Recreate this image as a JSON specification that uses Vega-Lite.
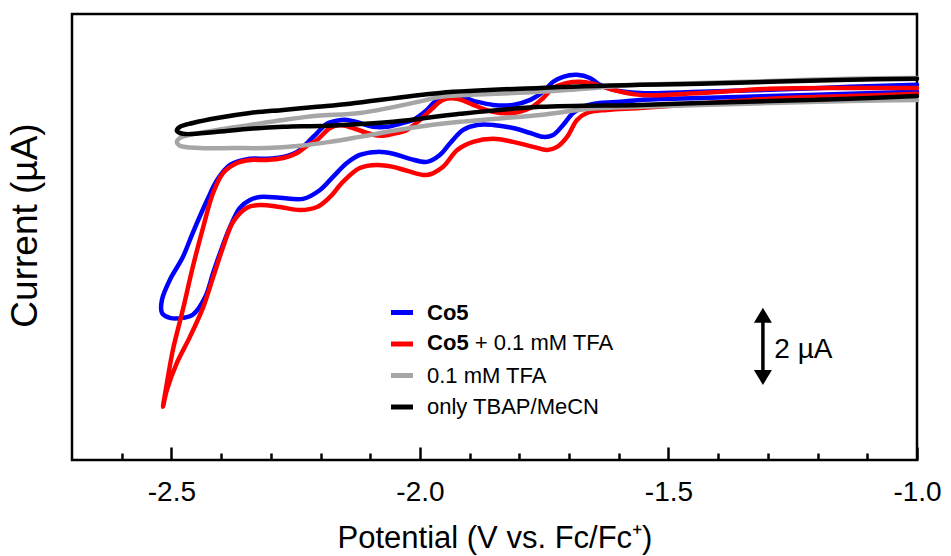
{
  "$schema": "https://vega.github.io/schema/vega-lite/v6.json",
  "width": 845,
  "height": 446,
  "autosize": {"type": "none"},
  "padding": {"left": 72, "top": 14, "right": 34, "bottom": 96},
  "background": "white",
  "config": {
    "view": {"stroke": "black", "strokeWidth": 2.5},
    "font": "Liberation Sans"
  },
  "datasets": {
    "cv": [
      {"s":"Co5","i":0,"E":-1.000,"I":9.56},{"s":"Co5","i":1,"E":-1.135,"I":9.51},{"s":"Co5","i":2,"E":-1.296,"I":9.45},{"s":"Co5","i":3,"E":-1.436,"I":9.40},{"s":"Co5","i":4,"E":-1.557,"I":9.35},{"s":"Co5","i":5,"E":-1.597,"I":9.30},{"s":"Co5","i":6,"E":-1.638,"I":9.27},{"s":"Co5","i":7,"E":-1.672,"I":9.17},{"s":"Co5","i":8,"E":-1.692,"I":9.01},{"s":"Co5","i":9,"E":-1.712,"I":8.70},{"s":"Co5","i":10,"E":-1.732,"I":8.44},{"s":"Co5","i":11,"E":-1.752,"I":8.39},{"s":"Co5","i":12,"E":-1.778,"I":8.49},{"s":"Co5","i":13,"E":-1.813,"I":8.62},{"s":"Co5","i":14,"E":-1.853,"I":8.70},{"s":"Co5","i":15,"E":-1.885,"I":8.70},{"s":"Co5","i":16,"E":-1.913,"I":8.57},{"s":"Co5","i":17,"E":-1.939,"I":8.23},{"s":"Co5","i":18,"E":-1.960,"I":7.92},{"s":"Co5","i":19,"E":-1.986,"I":7.74},{"s":"Co5","i":20,"E":-2.020,"I":7.82},{"s":"Co5","i":21,"E":-2.054,"I":7.95},{"s":"Co5","i":22,"E":-2.086,"I":8.00},{"s":"Co5","i":23,"E":-2.121,"I":7.92},{"s":"Co5","i":24,"E":-2.147,"I":7.71},{"s":"Co5","i":25,"E":-2.175,"I":7.35},{"s":"Co5","i":26,"E":-2.201,"I":7.01},{"s":"Co5","i":27,"E":-2.235,"I":6.78},{"s":"Co5","i":28,"E":-2.282,"I":6.81},{"s":"Co5","i":29,"E":-2.322,"I":6.83},{"s":"Co5","i":30,"E":-2.342,"I":6.75},{"s":"Co5","i":31,"E":-2.362,"I":6.55},{"s":"Co5","i":32,"E":-2.382,"I":6.05},{"s":"Co5","i":33,"E":-2.402,"I":5.38},{"s":"Co5","i":34,"E":-2.416,"I":4.86},{"s":"Co5","i":35,"E":-2.432,"I":4.23},{"s":"Co5","i":36,"E":-2.457,"I":3.77},{"s":"Co5","i":37,"E":-2.477,"I":3.69},{"s":"Co5","i":38,"E":-2.503,"I":3.69},{"s":"Co5","i":39,"E":-2.519,"I":3.82},{"s":"Co5","i":40,"E":-2.519,"I":4.16},{"s":"Co5","i":41,"E":-2.503,"I":4.68},{"s":"Co5","i":42,"E":-2.477,"I":5.27},{"s":"Co5","i":43,"E":-2.457,"I":5.90},{"s":"Co5","i":44,"E":-2.428,"I":6.75},{"s":"Co5","i":45,"E":-2.408,"I":7.27},{"s":"Co5","i":46,"E":-2.382,"I":7.66},{"s":"Co5","i":47,"E":-2.342,"I":7.82},{"s":"Co5","i":48,"E":-2.308,"I":7.82},{"s":"Co5","i":49,"E":-2.275,"I":7.87},{"s":"Co5","i":50,"E":-2.247,"I":8.00},{"s":"Co5","i":51,"E":-2.227,"I":8.23},{"s":"Co5","i":52,"E":-2.207,"I":8.49},{"s":"Co5","i":53,"E":-2.187,"I":8.73},{"s":"Co5","i":54,"E":-2.167,"I":8.81},{"s":"Co5","i":55,"E":-2.147,"I":8.83},{"s":"Co5","i":56,"E":-2.121,"I":8.75},{"s":"Co5","i":57,"E":-2.094,"I":8.65},{"s":"Co5","i":58,"E":-2.066,"I":8.65},{"s":"Co5","i":59,"E":-2.040,"I":8.73},{"s":"Co5","i":60,"E":-2.014,"I":8.83},{"s":"Co5","i":61,"E":-1.986,"I":9.09},{"s":"Co5","i":62,"E":-1.966,"I":9.35},{"s":"Co5","i":63,"E":-1.945,"I":9.43},{"s":"Co5","i":64,"E":-1.919,"I":9.43},{"s":"Co5","i":65,"E":-1.885,"I":9.30},{"s":"Co5","i":66,"E":-1.853,"I":9.22},{"s":"Co5","i":67,"E":-1.813,"I":9.22},{"s":"Co5","i":68,"E":-1.778,"I":9.35},{"s":"Co5","i":69,"E":-1.752,"I":9.56},{"s":"Co5","i":70,"E":-1.732,"I":9.82},{"s":"Co5","i":71,"E":-1.712,"I":9.95},{"s":"Co5","i":72,"E":-1.684,"I":10.00},{"s":"Co5","i":73,"E":-1.658,"I":9.92},{"s":"Co5","i":74,"E":-1.638,"I":9.74},{"s":"Co5","i":75,"E":-1.611,"I":9.61},{"s":"Co5","i":76,"E":-1.557,"I":9.53},{"s":"Co5","i":77,"E":-1.436,"I":9.56},{"s":"Co5","i":78,"E":-1.296,"I":9.61},{"s":"Co5","i":79,"E":-1.135,"I":9.69},{"s":"Co5","i":80,"E":-1.000,"I":9.74},
      {"s":"Co5 + 0.1 mM TFA","i":0,"E":-1.000,"I":9.51},{"s":"Co5 + 0.1 mM TFA","i":1,"E":-1.135,"I":9.45},{"s":"Co5 + 0.1 mM TFA","i":2,"E":-1.296,"I":9.38},{"s":"Co5 + 0.1 mM TFA","i":3,"E":-1.436,"I":9.25},{"s":"Co5 + 0.1 mM TFA","i":4,"E":-1.557,"I":9.14},{"s":"Co5 + 0.1 mM TFA","i":5,"E":-1.624,"I":9.09},{"s":"Co5 + 0.1 mM TFA","i":6,"E":-1.664,"I":9.01},{"s":"Co5 + 0.1 mM TFA","i":7,"E":-1.684,"I":8.83},{"s":"Co5 + 0.1 mM TFA","i":8,"E":-1.704,"I":8.39},{"s":"Co5 + 0.1 mM TFA","i":9,"E":-1.724,"I":8.13},{"s":"Co5 + 0.1 mM TFA","i":10,"E":-1.744,"I":8.05},{"s":"Co5 + 0.1 mM TFA","i":11,"E":-1.772,"I":8.13},{"s":"Co5 + 0.1 mM TFA","i":12,"E":-1.813,"I":8.26},{"s":"Co5 + 0.1 mM TFA","i":13,"E":-1.853,"I":8.34},{"s":"Co5 + 0.1 mM TFA","i":14,"E":-1.893,"I":8.26},{"s":"Co5 + 0.1 mM TFA","i":15,"E":-1.925,"I":8.05},{"s":"Co5 + 0.1 mM TFA","i":16,"E":-1.954,"I":7.61},{"s":"Co5 + 0.1 mM TFA","i":17,"E":-1.986,"I":7.40},{"s":"Co5 + 0.1 mM TFA","i":18,"E":-2.026,"I":7.51},{"s":"Co5 + 0.1 mM TFA","i":19,"E":-2.054,"I":7.61},{"s":"Co5 + 0.1 mM TFA","i":20,"E":-2.086,"I":7.66},{"s":"Co5 + 0.1 mM TFA","i":21,"E":-2.121,"I":7.58},{"s":"Co5 + 0.1 mM TFA","i":22,"E":-2.155,"I":7.22},{"s":"Co5 + 0.1 mM TFA","i":23,"E":-2.181,"I":6.83},{"s":"Co5 + 0.1 mM TFA","i":24,"E":-2.207,"I":6.57},{"s":"Co5 + 0.1 mM TFA","i":25,"E":-2.241,"I":6.49},{"s":"Co5 + 0.1 mM TFA","i":26,"E":-2.282,"I":6.57},{"s":"Co5 + 0.1 mM TFA","i":27,"E":-2.322,"I":6.62},{"s":"Co5 + 0.1 mM TFA","i":28,"E":-2.348,"I":6.55},{"s":"Co5 + 0.1 mM TFA","i":29,"E":-2.376,"I":6.18},{"s":"Co5 + 0.1 mM TFA","i":30,"E":-2.396,"I":5.53},{"s":"Co5 + 0.1 mM TFA","i":31,"E":-2.416,"I":4.75},{"s":"Co5 + 0.1 mM TFA","i":32,"E":-2.436,"I":3.97},{"s":"Co5 + 0.1 mM TFA","i":33,"E":-2.463,"I":3.19},{"s":"Co5 + 0.1 mM TFA","i":34,"E":-2.489,"I":2.52},{"s":"Co5 + 0.1 mM TFA","i":35,"E":-2.509,"I":1.82},{"s":"Co5 + 0.1 mM TFA","i":36,"E":-2.517,"I":1.38},{"s":"Co5 + 0.1 mM TFA","i":37,"E":-2.509,"I":2.00},{"s":"Co5 + 0.1 mM TFA","i":38,"E":-2.497,"I":2.86},{"s":"Co5 + 0.1 mM TFA","i":39,"E":-2.477,"I":3.90},{"s":"Co5 + 0.1 mM TFA","i":40,"E":-2.457,"I":5.01},{"s":"Co5 + 0.1 mM TFA","i":41,"E":-2.436,"I":6.05},{"s":"Co5 + 0.1 mM TFA","i":42,"E":-2.416,"I":6.94},{"s":"Co5 + 0.1 mM TFA","i":43,"E":-2.396,"I":7.45},{"s":"Co5 + 0.1 mM TFA","i":44,"E":-2.368,"I":7.71},{"s":"Co5 + 0.1 mM TFA","i":45,"E":-2.342,"I":7.79},{"s":"Co5 + 0.1 mM TFA","i":46,"E":-2.308,"I":7.79},{"s":"Co5 + 0.1 mM TFA","i":47,"E":-2.275,"I":7.84},{"s":"Co5 + 0.1 mM TFA","i":48,"E":-2.247,"I":7.97},{"s":"Co5 + 0.1 mM TFA","i":49,"E":-2.227,"I":8.16},{"s":"Co5 + 0.1 mM TFA","i":50,"E":-2.207,"I":8.31},{"s":"Co5 + 0.1 mM TFA","i":51,"E":-2.181,"I":8.62},{"s":"Co5 + 0.1 mM TFA","i":52,"E":-2.161,"I":8.70},{"s":"Co5 + 0.1 mM TFA","i":53,"E":-2.135,"I":8.62},{"s":"Co5 + 0.1 mM TFA","i":54,"E":-2.106,"I":8.49},{"s":"Co5 + 0.1 mM TFA","i":55,"E":-2.080,"I":8.42},{"s":"Co5 + 0.1 mM TFA","i":56,"E":-2.054,"I":8.47},{"s":"Co5 + 0.1 mM TFA","i":57,"E":-2.026,"I":8.57},{"s":"Co5 + 0.1 mM TFA","i":58,"E":-2.000,"I":8.83},{"s":"Co5 + 0.1 mM TFA","i":59,"E":-1.974,"I":9.14},{"s":"Co5 + 0.1 mM TFA","i":60,"E":-1.954,"I":9.35},{"s":"Co5 + 0.1 mM TFA","i":61,"E":-1.925,"I":9.38},{"s":"Co5 + 0.1 mM TFA","i":62,"E":-1.893,"I":9.22},{"s":"Co5 + 0.1 mM TFA","i":63,"E":-1.853,"I":9.04},{"s":"Co5 + 0.1 mM TFA","i":64,"E":-1.813,"I":9.01},{"s":"Co5 + 0.1 mM TFA","i":65,"E":-1.778,"I":9.14},{"s":"Co5 + 0.1 mM TFA","i":66,"E":-1.752,"I":9.40},{"s":"Co5 + 0.1 mM TFA","i":67,"E":-1.732,"I":9.66},{"s":"Co5 + 0.1 mM TFA","i":68,"E":-1.704,"I":9.79},{"s":"Co5 + 0.1 mM TFA","i":69,"E":-1.678,"I":9.82},{"s":"Co5 + 0.1 mM TFA","i":70,"E":-1.652,"I":9.77},{"s":"Co5 + 0.1 mM TFA","i":71,"E":-1.611,"I":9.61},{"s":"Co5 + 0.1 mM TFA","i":72,"E":-1.557,"I":9.48},{"s":"Co5 + 0.1 mM TFA","i":73,"E":-1.436,"I":9.53},{"s":"Co5 + 0.1 mM TFA","i":74,"E":-1.296,"I":9.64},{"s":"Co5 + 0.1 mM TFA","i":75,"E":-1.135,"I":9.66},{"s":"Co5 + 0.1 mM TFA","i":76,"E":-1.000,"I":9.66},
      {"s":"0.1 mM TFA","i":0,"E":-1.000,"I":9.92},{"s":"0.1 mM TFA","i":1,"E":-1.135,"I":9.90},{"s":"0.1 mM TFA","i":2,"E":-1.296,"I":9.84},{"s":"0.1 mM TFA","i":3,"E":-1.436,"I":9.79},{"s":"0.1 mM TFA","i":4,"E":-1.557,"I":9.74},{"s":"0.1 mM TFA","i":5,"E":-1.758,"I":9.56},{"s":"0.1 mM TFA","i":6,"E":-1.960,"I":9.43},{"s":"0.1 mM TFA","i":7,"E":-1.986,"I":9.35},{"s":"0.1 mM TFA","i":8,"E":-2.121,"I":9.01},{"s":"0.1 mM TFA","i":9,"E":-2.207,"I":8.94},{"s":"0.1 mM TFA","i":10,"E":-2.275,"I":8.83},{"s":"0.1 mM TFA","i":11,"E":-2.342,"I":8.70},{"s":"0.1 mM TFA","i":12,"E":-2.408,"I":8.57},{"s":"0.1 mM TFA","i":13,"E":-2.463,"I":8.44},{"s":"0.1 mM TFA","i":14,"E":-2.483,"I":8.36},{"s":"0.1 mM TFA","i":15,"E":-2.489,"I":8.26},{"s":"0.1 mM TFA","i":16,"E":-2.483,"I":8.16},{"s":"0.1 mM TFA","i":17,"E":-2.442,"I":8.10},{"s":"0.1 mM TFA","i":18,"E":-2.376,"I":8.10},{"s":"0.1 mM TFA","i":19,"E":-2.308,"I":8.10},{"s":"0.1 mM TFA","i":20,"E":-2.241,"I":8.16},{"s":"0.1 mM TFA","i":21,"E":-2.181,"I":8.26},{"s":"0.1 mM TFA","i":22,"E":-2.121,"I":8.39},{"s":"0.1 mM TFA","i":23,"E":-2.020,"I":8.62},{"s":"0.1 mM TFA","i":24,"E":-1.919,"I":8.78},{"s":"0.1 mM TFA","i":25,"E":-1.758,"I":8.96},{"s":"0.1 mM TFA","i":26,"E":-1.658,"I":9.12},{"s":"0.1 mM TFA","i":27,"E":-1.557,"I":9.17},{"s":"0.1 mM TFA","i":28,"E":-1.436,"I":9.22},{"s":"0.1 mM TFA","i":29,"E":-1.296,"I":9.27},{"s":"0.1 mM TFA","i":30,"E":-1.135,"I":9.32},{"s":"0.1 mM TFA","i":31,"E":-1.000,"I":9.35},
      {"s":"only TBAP/MeCN","i":0,"E":-1.000,"I":9.90},{"s":"only TBAP/MeCN","i":1,"E":-1.135,"I":9.87},{"s":"only TBAP/MeCN","i":2,"E":-1.296,"I":9.82},{"s":"only TBAP/MeCN","i":3,"E":-1.436,"I":9.77},{"s":"only TBAP/MeCN","i":4,"E":-1.557,"I":9.74},{"s":"only TBAP/MeCN","i":5,"E":-1.758,"I":9.66},{"s":"only TBAP/MeCN","i":6,"E":-1.960,"I":9.53},{"s":"only TBAP/MeCN","i":7,"E":-2.141,"I":9.25},{"s":"only TBAP/MeCN","i":8,"E":-2.207,"I":9.17},{"s":"only TBAP/MeCN","i":9,"E":-2.275,"I":9.09},{"s":"only TBAP/MeCN","i":10,"E":-2.342,"I":9.01},{"s":"only TBAP/MeCN","i":11,"E":-2.408,"I":8.88},{"s":"only TBAP/MeCN","i":12,"E":-2.457,"I":8.75},{"s":"only TBAP/MeCN","i":13,"E":-2.483,"I":8.65},{"s":"only TBAP/MeCN","i":14,"E":-2.489,"I":8.55},{"s":"only TBAP/MeCN","i":15,"E":-2.477,"I":8.47},{"s":"only TBAP/MeCN","i":16,"E":-2.408,"I":8.52},{"s":"only TBAP/MeCN","i":17,"E":-2.342,"I":8.60},{"s":"only TBAP/MeCN","i":18,"E":-2.275,"I":8.65},{"s":"only TBAP/MeCN","i":19,"E":-2.187,"I":8.68},{"s":"only TBAP/MeCN","i":20,"E":-2.054,"I":8.78},{"s":"only TBAP/MeCN","i":21,"E":-1.919,"I":8.99},{"s":"only TBAP/MeCN","i":22,"E":-1.758,"I":9.17},{"s":"only TBAP/MeCN","i":23,"E":-1.557,"I":9.22},{"s":"only TBAP/MeCN","i":24,"E":-1.436,"I":9.27},{"s":"only TBAP/MeCN","i":25,"E":-1.296,"I":9.32},{"s":"only TBAP/MeCN","i":26,"E":-1.135,"I":9.38},{"s":"only TBAP/MeCN","i":27,"E":-1.000,"I":9.45}
    ]
  },
  "layer": [
    {
      "data": {"name": "cv"},
      "mark": {"type": "line", "strokeWidth": 4.5, "interpolate": "catmull-rom", "strokeCap": "round", "strokeJoin": "round"},
      "encoding": {
        "x": {
          "field": "E", "type": "quantitative",
          "scale": {"domain": [-2.7, -1.0], "nice": false, "zero": false},
          "axis": {
            "title": "Potential (V vs. Fc/Fc⁺)",
            "values": [-2.6,-2.5,-2.4,-2.3,-2.2,-2.1,-2.0,-1.9,-1.8,-1.7,-1.6,-1.5,-1.4,-1.3,-1.2,-1.1,-1.0],
            "domain": false,
            "grid": false,
            "tickColor": "black",
            "tickWidth": 2.5,
            "tickSize": {"condition": {"test": "abs(datum.value*2 - round(datum.value*2)) < 0.001", "value": -13}, "value": -7},
            "labelExpr": "abs(datum.value*2 - round(datum.value*2)) < 0.001 ? ((datum.value < 0 ? '-' : '') + format(abs(datum.value), '.1f')) : ''",
            "labelFont": "Liberation Sans",
            "labelFontSize": 28,
            "labelColor": "black",
            "labelPadding": 31,
            "labelFlush": false,
            "labelOverlap": false,
            "titleFont": "Liberation Sans",
            "titleFontSize": 31,
            "titleFontWeight": "normal",
            "titleColor": "black",
            "titlePadding": 11
          }
        },
        "y": {
          "field": "I", "type": "quantitative",
          "scale": {"domain": [0, 11.58], "nice": false, "zero": false},
          "axis": {
            "title": "Current (µA)",
            "labels": false, "ticks": false, "domain": false, "grid": false,
            "titleFont": "Liberation Sans",
            "titleFontSize": 37,
            "titleFontWeight": "normal",
            "titleColor": "black",
            "titlePadding": 28,
            "titleY": 211
          }
        },
        "color": {
          "field": "s", "type": "nominal",
          "scale": {
            "domain": ["Co5", "Co5 + 0.1 mM TFA", "0.1 mM TFA", "only TBAP/MeCN"],
            "range": ["#0000ff", "#ff0000", "#a6a6a6", "#000000"]
          },
          "legend": {
            "title": null,
            "orient": "none",
            "legendX": 316.5,
            "legendY": 285,
            "padding": 0,
            "symbolType": "stroke",
            "symbolStrokeWidth": 5,
            "symbolSize": 484,
            "labelFont": "Liberation Sans",
            "labelFontSize": 22,
            "labelColor": "black",
            "labelOffset": 11.5,
            "labelLimit": 400,
            "rowPadding": 6.5,
            "labelExpr": "datum.label == 'Co5 + 0.1 mM TFA' ? '' : datum.label",
            "encode": {"labels": {"update": {"fontWeight": {"signal": "datum.label == 'Co5' ? 'bold' : 'normal'"}}}}
          }
        },
        "detail": {"field": "s"},
        "order": {"field": "i", "type": "quantitative"}
      }
    },
    {
      "data": {"values": [{"label": "Co5", "v": 3.04}]},
      "mark": {"type": "text", "align": "left", "baseline": "middle", "font": "Liberation Sans", "fontSize": 22, "fontWeight": "bold", "color": "black"},
      "encoding": {
        "x": {"datum": -1.9857, "type": "quantitative"},
        "y": {"field": "v", "type": "quantitative"},
        "text": {"field": "label"}
      }
    },
    {
      "data": {"values": [{"label": "+ 0.1 mM TFA", "v": 3.04}]},
      "mark": {"type": "text", "align": "left", "baseline": "middle", "font": "Liberation Sans", "fontSize": 22, "fontWeight": "normal", "color": "black"},
      "encoding": {
        "x": {"datum": -1.8897, "type": "quantitative"},
        "y": {"field": "v", "type": "quantitative"},
        "text": {"field": "label"}
      }
    },
    {
      "data": {"values": [{"lo": 2.1, "hi": 3.8}]},
      "mark": {"type": "rule", "strokeWidth": 3.5, "color": "black"},
      "encoding": {
        "x": {"datum": -1.31, "type": "quantitative"},
        "y": {"field": "lo", "type": "quantitative"},
        "y2": {"field": "hi"}
      }
    },
    {
      "data": {"values": [{"v": 3.76}]},
      "mark": {"type": "point", "shape": "M-1,0.83L0,-0.83L1,0.83Z", "filled": true, "size": 324, "color": "black", "opacity": 1},
      "encoding": {
        "x": {"datum": -1.31, "type": "quantitative"},
        "y": {"field": "v", "type": "quantitative"}
      }
    },
    {
      "data": {"values": [{"v": 2.14}]},
      "mark": {"type": "point", "shape": "M-1,-0.83L0,0.83L1,-0.83Z", "filled": true, "size": 324, "color": "black", "opacity": 1},
      "encoding": {
        "x": {"datum": -1.31, "type": "quantitative"},
        "y": {"field": "v", "type": "quantitative"}
      }
    },
    {
      "data": {"values": [{"label": "2 µA", "v": 2.86}]},
      "mark": {"type": "text", "align": "left", "baseline": "middle", "font": "Liberation Sans", "fontSize": 28, "color": "black"},
      "encoding": {
        "x": {"datum": -1.287, "type": "quantitative"},
        "y": {"field": "v", "type": "quantitative"},
        "text": {"field": "label"}
      }
    }
  ]
}
